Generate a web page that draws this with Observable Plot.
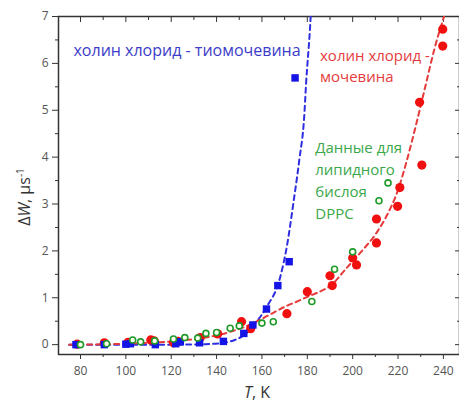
<!DOCTYPE html>
<html><head><meta charset="utf-8">
<script src="https://cdn.jsdelivr.net/npm/d3@7"></script>
<script src="https://cdn.jsdelivr.net/npm/@observablehq/plot@0.6"></script>
<style>body{margin:0;background:#fff}</style>
</head><body><div id="chart"></div>
<script>
// Tick values
const xMajor = [80, 100, 120, 140, 160, 180, 200, 220, 240];
const xMinor = [90, 110, 130, 150, 170, 190, 210, 230];
const yMajor = [0, 1, 2, 3, 4, 5, 6, 7];
const yMinor = [0.5, 1.5, 2.5, 3.5, 4.5, 5.5, 6.5];

// холин хлорид - тиомочевина (blue squares)
const blueT = [78, 90.5, 100, 102, 113, 122, 124, 132.5, 143, 152, 156, 162, 167, 172, 174.6];
const blueW = [0, 0, 0.01, 0.02, 0, 0.02, 0.06, 0.04, 0.07, 0.24, 0.42, 0.76, 1.26, 1.77, 5.69];

// холин хлорид - мочевина (red circles)
const redT = [78.5, 90.5, 101, 111, 112.5, 121, 123, 132.8, 140.5, 151, 155, 171, 180, 190, 191, 200, 201.7, 210.5, 210.5, 219.8, 220.8, 230.5, 229.5, 239.7, 239.7];
const redW = [0.01, 0.04, 0.05, 0.1, 0.08, 0.04, 0.07, 0.15, 0.23, 0.49, 0.34, 0.66, 1.13, 1.47, 1.26, 1.85, 1.7, 2.17, 2.68, 2.95, 3.35, 3.83, 5.17, 6.37, 6.73];

// DPPC (green open circles)
const greenT = [80, 91.5, 103, 106.5, 112.7, 121, 126, 131.7, 135.3, 140, 146, 150, 160, 165, 182, 192, 200, 211.6, 215.6];
const greenW = [0, 0.02, 0.1, 0.06, 0.08, 0.12, 0.15, 0.14, 0.24, 0.26, 0.35, 0.4, 0.46, 0.49, 0.92, 1.61, 1.98, 3.07, 3.45];

// dashed guide curves
const blueFitT = [75, 100, 120, 135, 143, 148, 152, 157, 162, 168, 171, 174, 176.5, 178.6, 179.5, 181.2, 181.6];
const blueFitW = [0, 0, 0, 0.01, 0.04, 0.1, 0.2, 0.45, 0.8, 1.43, 2.1, 3.07, 3.95, 4.84, 5.6, 6.76, 7.1];
const redFitT = [75, 100, 120, 135, 145, 152, 160, 165, 171, 175.5, 180, 185, 190, 197.6, 205, 210, 215, 220, 224, 228, 232, 236, 240.3];
const redFitW = [0, 0.02, 0.07, 0.15, 0.26, 0.37, 0.55, 0.68, 0.83, 0.92, 1.02, 1.12, 1.25, 1.65, 2.05, 2.35, 2.75, 3.3, 3.95, 4.7, 5.5, 6.3, 7.0];

const toRows = (T, W) => T.map((t, i) => ({T: t, W: W[i]}));
const blue = toRows(blueT, blueW), red = toRows(redT, redW), green = toRows(greenT, greenW);
const blueFit = toRows(blueFitT, blueFitW), redFit = toRows(redFitT, redFitW);

const cBlue = "#1414e6", cRed = "#f01010", cGreen = "#1f9a2c";
const blank = () => "";

const plot = Plot.plot({
  width: 459, height: 403,
  marginLeft: 58, marginRight: 0, marginTop: 16, marginBottom: 49,
  x: {domain: [70.3, 247.1]},
  y: {domain: [-0.21, 7]},
  style: {fontFamily: "'Open Sans', sans-serif", background: "white"},
  marks: [
    Plot.frame({stroke: "#333", strokeWidth: 1.5}),
    Plot.axisX({ticks: xMajor, tickSize: 5, tickPadding: 7, fontSize: 12, fill: "#555", stroke: "#333", label: null}),
    Plot.axisX({ticks: xMinor, tickSize: 3, tickFormat: blank, stroke: "#333", label: null}),
    Plot.axisX({anchor: "top", ticks: xMajor, tickSize: -5, tickFormat: blank, stroke: "#333", label: null}),
    Plot.axisX({anchor: "top", ticks: xMinor, tickSize: -3, tickFormat: blank, stroke: "#333", label: null}),
    Plot.axisY({ticks: yMajor, tickSize: 6, tickPadding: 4, fontSize: 12, fill: "#555", stroke: "#333", label: null}),
    Plot.axisY({ticks: yMinor, tickSize: 3, tickFormat: blank, stroke: "#333", label: null}),
    Plot.axisY({anchor: "right", ticks: yMajor, tickSize: -5, tickFormat: blank, stroke: "#333", label: null}),
    Plot.axisY({anchor: "right", ticks: yMinor, tickSize: -3, tickFormat: blank, stroke: "#333", label: null}),
    Plot.line(blueFit, {x: "T", y: "W", stroke: "#2e2ee0", strokeWidth: 2, strokeDasharray: "5,4", curve: "monotone-x", clip: true}),
    Plot.line(redFit, {x: "T", y: "W", stroke: "#e63a3a", strokeWidth: 2, strokeDasharray: "5,4", curve: "monotone-x", clip: true}),
    Plot.dot(red, {x: "T", y: "W", r: 4.6, fill: cRed}),
    Plot.dot(blue, {x: "T", y: "W", r: 4.2, symbol: "square", fill: cBlue}),
    Plot.dot(green, {x: "T", y: "W", r: 3, fill: "#fffff0", stroke: cGreen, strokeWidth: 1.6}),
    Plot.text(["холин хлорид - тиомочевина"], {x: 76.9, y: 6.4, text: d => d, textAnchor: "start", lineAnchor: "top", fontSize: 16, fill: "#3c3cc8"}),
    Plot.text(["холин хлорид -\nмочевина"], {x: 185.6, y: 6.37, text: d => d, textAnchor: "start", lineAnchor: "top", lineHeight: 1.4, fontSize: 15, fill: "#e43c3c"}),
    Plot.text(["Данные для\nлипидного\nбислоя\nDPPC"], {x: 183.5, y: 4.43, text: d => d, textAnchor: "start", lineAnchor: "top", lineHeight: 1.47, fontSize: 15, fill: "#3aa84a"})
  ]
});

const svg = d3.select(plot);
const yl = svg.append("text")
  .attr("transform", "translate(30,197) rotate(-90)")
  .attr("text-anchor", "middle")
  .attr("font-size", 16).attr("fill", "#333");
yl.append("tspan").text("Δ");
yl.append("tspan").attr("font-style", "italic").text("W");
yl.append("tspan").text(", μs");
yl.append("tspan").attr("dy", -6).attr("font-size", 10).text("-1");

const xl = svg.append("text")
  .attr("x", 257).attr("y", 398)
  .attr("text-anchor", "middle")
  .attr("font-size", 16).attr("fill", "#333");
xl.append("tspan").attr("font-style", "italic").text("T");
xl.append("tspan").text(", K");

document.getElementById("chart").appendChild(plot);
</script>
</body></html>
